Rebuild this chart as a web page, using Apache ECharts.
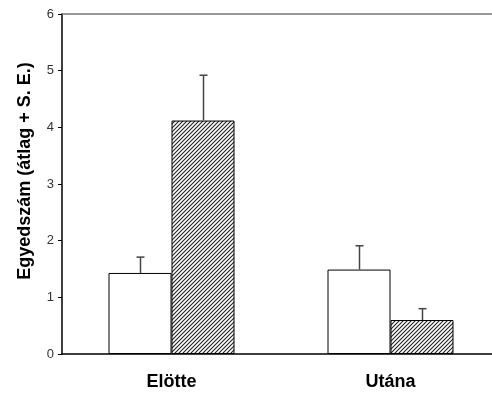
<!DOCTYPE html>
<html>
<head>
<meta charset="utf-8">
<script src="https://cdn.jsdelivr.net/npm/echarts@6/dist/echarts.min.js"></script>
<style>
  html, body { margin: 0; padding: 0; background: #fff; }
  #main { width: 492px; height: 394px; }
</style>
</head>
<body>
<div id="main"></div>
<script>
// adatok
var categories = ['Elötte', 'Utána'];
var openMeans = [1.43, 1.49];
var openErr = [0.28, 0.42];
var hatchMeans = [4.12, 0.60];
var hatchErr = [0.80, 0.20];
var yTicks = [0, 1, 2, 3, 4, 5, 6];

var BAR_W = 63;

// csikos minta
function hatchPattern() {
  var c = document.createElement('canvas');
  c.width = 4; c.height = 4;
  var ctx = c.getContext('2d');
  ctx.fillStyle = '#fff';
  ctx.fillRect(0, 0, 4, 4);
  ctx.strokeStyle = '#222';
  ctx.lineWidth = 1.1;
  ctx.beginPath();
  ctx.moveTo(0, 4); ctx.lineTo(4, 0);
  ctx.moveTo(-1, 1); ctx.lineTo(1, -1);
  ctx.moveTo(3, 5); ctx.lineTo(5, 3);
  ctx.stroke();
  return c;
}

function errData(means, errs) {
  return means.map(function (m, i) { return [i, m, m + errs[i]]; });
}

function errRender(offset) {
  return function (params, api) {
    var top = api.coord([api.value(0), api.value(2)]);
    var base = api.coord([api.value(0), api.value(1)]);
    var x = Math.round(top[0] + offset) + 0.5;
    return {
      type: 'group',
      children: [
        { type: 'line', shape: { x1: x, y1: base[1], x2: x, y2: top[1] },
          style: { stroke: '#444', lineWidth: 1.5 } },
        { type: 'line', shape: { x1: x - 4, y1: top[1], x2: x + 4, y2: top[1] },
          style: { stroke: '#444', lineWidth: 1.5 } }
      ]
    };
  };
}

var myChart = echarts.init(document.getElementById('main'));
myChart.setOption({
  animation: false,
  textStyle: { fontFamily: 'Liberation Sans, Arial, sans-serif' },
  grid: { left: 62, top: 14, right: -8, bottom: 40, outerBoundsMode: 'none', containLabel: false },
  graphic: [{
    type: 'text',
    x: 25, y: 171,
    rotation: Math.PI / 2,
    style: {
      text: 'Egyedszám (átlag + S. E.)',
      fill: '#000',
      font: 'bold 18px Liberation Sans, Arial, sans-serif',
      align: 'center',
      verticalAlign: 'middle'
    }
  }],
  xAxis: [{
    type: 'category',
    data: categories,
    axisLine: { lineStyle: { color: '#000', width: 1.5 } },
    axisTick: { length: 5, lineStyle: { color: '#000' } },
    axisLabel: { color: '#000', fontSize: 18, fontWeight: 'bold', margin: 19 }
  }, {
    type: 'category',
    data: categories,
    position: 'top',
    axisLine: { lineStyle: { color: '#777', width: 1.5 } },
    axisTick: { show: false },
    axisLabel: { show: false }
  }],
  yAxis: {
    type: 'value',
    min: yTicks[0],
    max: yTicks[yTicks.length - 1],
    interval: 1,
    axisLine: { show: true, lineStyle: { color: '#000', width: 1.5 } },
    axisTick: { show: true, length: 4, lineStyle: { color: '#000' } },
    axisLabel: { color: '#333', fontSize: 13, margin: 8 },
    splitLine: { show: false }
  },
  series: [{
    type: 'bar',
    data: openMeans,
    barWidth: BAR_W,
    barGap: '0%',
    itemStyle: { color: '#fff', borderColor: '#000', borderWidth: 1 }
  }, {
    type: 'bar',
    data: hatchMeans,
    barWidth: BAR_W,
    barGap: '0%',
    itemStyle: { color: { image: hatchPattern(), repeat: 'repeat' }, borderColor: '#000', borderWidth: 1 }
  }, {
    type: 'custom',
    data: errData(openMeans, openErr),
    renderItem: errRender(-BAR_W / 2),
    encode: { x: 0, y: [1, 2] },
    z: 5
  }, {
    type: 'custom',
    data: errData(hatchMeans, hatchErr),
    renderItem: errRender(BAR_W / 2),
    encode: { x: 0, y: [1, 2] },
    z: 5
  }]
});
</script>
</body>
</html>
